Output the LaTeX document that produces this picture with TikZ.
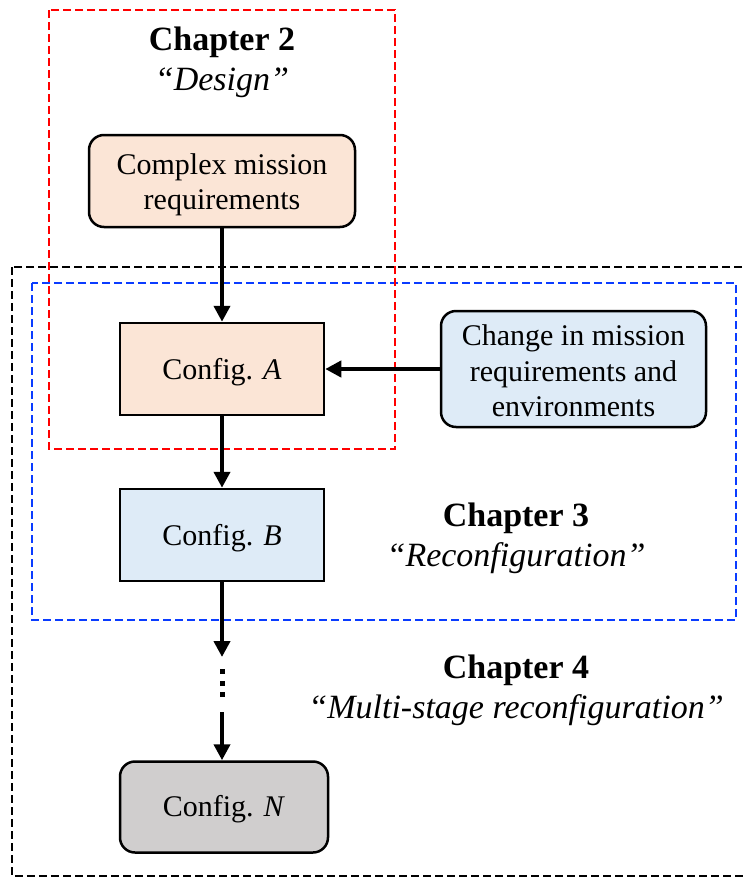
\documentclass[tikz,border=0pt]{standalone}
\usepackage{fontspec}
\setmainfont{Liberation Serif}
\usetikzlibrary{arrows.meta}

\definecolor{peach}{HTML}{FBE5D6}
\definecolor{paleblue}{HTML}{DEEBF7}
\definecolor{palegray}{HTML}{D0CECE}
\definecolor{frameblue}{HTML}{0A3CFF}
\definecolor{framered}{HTML}{FF0000}

\tikzset{
  box/.style={draw=black, line width=2.5pt, inner sep=0pt},
  roundbox/.style={box, rounded corners=15pt},
  boxtext/.style={align=center, inner sep=0pt, text=black,
    font=\fontsize{30}{35.5}\selectfont},
  flow/.style={line width=4.5pt, -{Triangle[length=16pt,width=16pt]}},
  frame/.style={line width=2pt, dash pattern=on 8pt off 4pt},
  heading/.style={align=center, font=\fontsize{34}{40}\selectfont, inner sep=0pt},
}

\begin{document}
\begin{tikzpicture}[x=1pt,y=-1pt]
\useasboundingbox (0,0) rectangle (744,878);
\clip (0,0) rectangle (744,878);

% chapter frames
\draw[frame, black] (12,267) rectangle (770,876);
\draw[frame, frameblue] (32,283) rectangle (736,620);
\draw[frame, framered] (49,10) rectangle (395,449);

% headings
\node[heading] (ch2) at (222,62) {\textbf{Chapter 2}\\\textit{``Design''}};
\node[heading] (ch3) at (516,538) {\textbf{Chapter 3}\\\textit{``Reconfiguration''}};
\node[heading] (ch4) at (516,690) {\textbf{Chapter 4}\\\textit{``Multi-stage reconfiguration''}};

% configuration chain
\node[roundbox, fill=peach, minimum width=266pt, minimum height=92pt,
  label={[boxtext, yshift=-4pt]center:Complex mission\\requirements}] (req) at (222,181) {};
\node[box, fill=peach, minimum width=204pt, minimum height=92pt,
  label={[boxtext, yshift=-3pt]center:Config. \textit{A}}] (cfgA) at (222,369) {};
\node[box, fill=paleblue, minimum width=204pt, minimum height=92pt,
  label={[boxtext, yshift=-3.5pt]center:Config. \textit{B}}] (cfgB) at (222,535) {};
\node[roundbox, fill=palegray, minimum width=208pt, minimum height=91pt,
  label={[boxtext, yshift=-2pt]center:Config. \textit{N}}] (cfgN) at (224,807) {};
\node[roundbox, fill=paleblue, minimum width=265pt, minimum height=116pt,
  label={[boxtext, yshift=-2pt]center:Change in mission\\requirements and\\environments}] (chg) at (573.5,369) {};

\coordinate (gapTop) at (222,657);
\coordinate (gapBot) at (222,712);

\draw[flow] (req.south) -- (cfgA.north);
\draw[flow] (cfgA.south) -- (cfgB.north);
\draw[flow] (chg.west) -- (cfgA.east);
\draw[flow] (cfgB.south) -- (gapTop);
\draw[flow] (gapBot) -- (cfgN.north -| gapBot);

% ellipsis between stages
\foreach \yy in {671,683,694}
  \fill (219.5,\yy-2.5) rectangle (224.5,\yy+2.5);
\end{tikzpicture}
\end{document}
